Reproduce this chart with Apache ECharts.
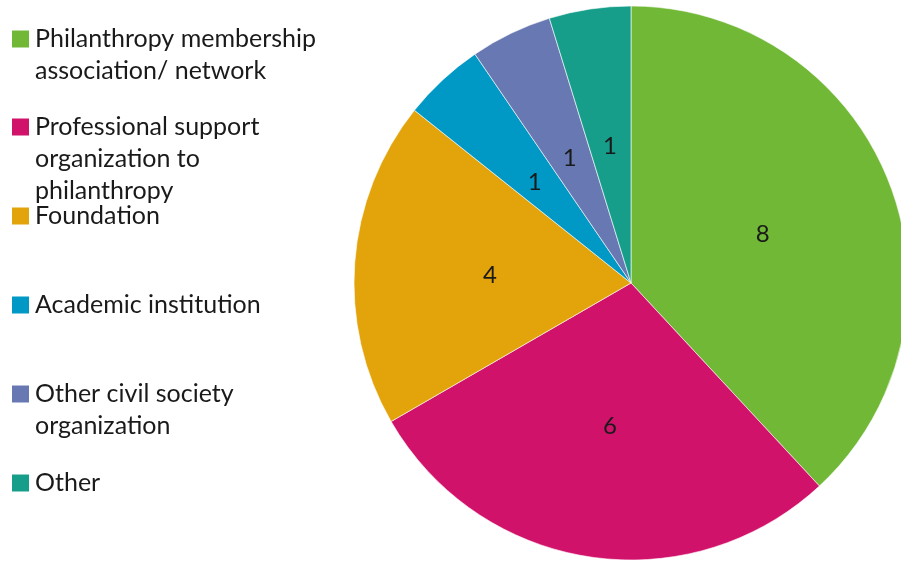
<!DOCTYPE html>
<html>
<head>
<meta charset="utf-8">
<script src="https://cdn.jsdelivr.net/npm/echarts@6/dist/echarts.min.js"></script>
<style>html,body{margin:0;padding:0;background:#fff;}#c{width:901px;height:561px;}</style>
</head>
<body>
<div id="c"></div>
<script>
const categories = [
  "Philanthropy membership association/ network",
  "Professional support organization to philanthropy",
  "Foundation",
  "Academic institution",
  "Other civil society organization",
  "Other"
];
const legendLines = [
  ["Philanthropy membership", "association/ network"],
  ["Professional support", "organization to", "philanthropy"],
  ["Foundation"],
  ["Academic institution"],
  ["Other civil society", "organization"],
  ["Other"]
];
const values = [8, 6, 4, 1, 1, 1];
const colors = ["#70B836", "#D0126B", "#E2A30B", "#0099C6", "#6778B2", "#169E8A"];
const legendCenterY = [39, 127, 216, 305, 394, 483];

const FONT = "Lato";
const LH = 32;
const chart = echarts.init(document.getElementById('c'), null, {renderer: 'canvas'});

const legends = categories.map((name, i) => {
  const lines = legendLines[i];
  const n = lines.length;
  const pad = new Array(n - 1).fill('\u00a0');
  const text = pad.concat(lines).join('\n');
  const h = (2 * n - 1) * LH;
  return {
    data: [name],
    left: 10,
    top: legendCenterY[i] - h / 2,
    padding: 0,
    icon: 'path://M0,0L10,0L10,10L0,10Z',
    itemWidth: 19,
    itemHeight: 19,
    itemGap: 0,
    selectedMode: false,
    formatter: () => text,
    textStyle: {
      fontFamily: FONT,
      fontSize: 25,
      color: '#1a1a1a',
      lineHeight: LH
    }
  };
});

chart.setOption({
  animation: false,
  color: colors,
  legend: legends,
  series: [{
    type: 'pie',
    center: [631, 283],
    radius: 277,
    startAngle: 90,
    clockwise: true,
    avoidLabelOverlap: false,
    itemStyle: {borderColor: '#ffffff', borderWidth: 0.6},
    label: {
      show: true,
      position: 'inside',
      formatter: '{c}',
      fontFamily: FONT,
      fontSize: 24,
      color: '#1a1a1a',
      offset: [0, 3]
    },
    labelLine: {show: false},
    emphasis: {disabled: true},
    data: categories.map((name, i) => ({name: name, value: values[i]}))
  }]
});
</script>
</body>
</html>
